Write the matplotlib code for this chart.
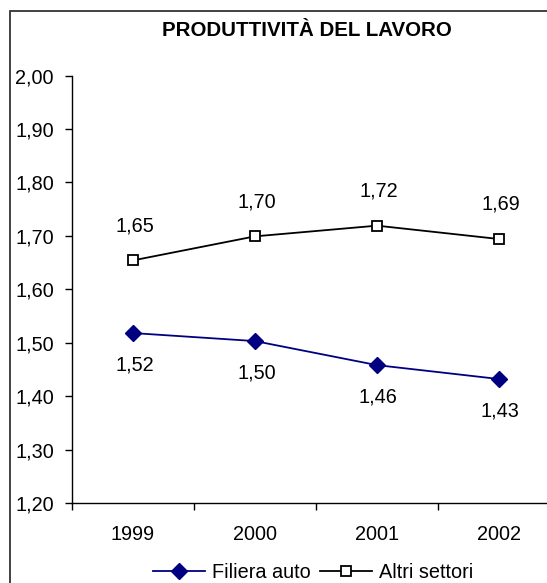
import matplotlib.pyplot as plt
from matplotlib.patches import Rectangle
from matplotlib.ticker import FuncFormatter, FixedLocator

plt.rcParams['font.family'] = ['Liberation Sans', 'DejaVu Sans']

# dati
anni = ['1999', '2000', '2001', '2002']
filiera_auto = [1.518, 1.503, 1.458, 1.432]
altri_settori = [1.654, 1.699, 1.719, 1.694]

FS = 14.3

def virgola(v, pos=None):
    return f"{v:.2f}".replace('.', ',')

fig = plt.figure(figsize=(5.47, 5.83), dpi=100)
fig.patch.set_facecolor('white')

# cornice (tagliata a destra e in basso come nell'originale)
fig.patches.append(Rectangle((10 / 547, -0.1), 1.2, (583 - 11) / 583 + 0.1,
                             transform=fig.transFigure, fill=False,
                             edgecolor='#333333', linewidth=1.3))

ax = fig.add_axes([72 / 547, 80 / 583, 488 / 547, 427.5 / 583])
x = list(range(1, len(anni) + 1))

l1, = ax.plot(x, filiera_auto, color='#000080', linewidth=1.3, marker='D',
              markersize=8, markerfacecolor='#000080', markeredgecolor='#000080',
              label='Filiera auto', clip_on=False)
l2, = ax.plot(x, altri_settori, color='black', linewidth=1.3, marker='s',
              markersize=7.5, markerfacecolor='white', markeredgecolor='black',
              markeredgewidth=1.3, label='Altri settori', clip_on=False)

for xi, v in zip(x, altri_settori):
    ax.annotate(virgola(v), (xi, v), xytext=(1, 25), textcoords='offset points',
                ha='center', va='center', fontsize=FS)
for xi, v in zip(x, filiera_auto):
    ax.annotate(virgola(v), (xi, v), xytext=(1, -23), textcoords='offset points',
                ha='center', va='center', fontsize=FS)

ax.set_xlim(0.5, 4.5)
ax.set_ylim(1.2, 2.0)
ax.yaxis.set_major_locator(FixedLocator([1.2 + 0.1 * i for i in range(9)]))
ax.yaxis.set_major_formatter(FuncFormatter(virgola))
ax.xaxis.set_major_locator(FixedLocator([0.5, 1.5, 2.5, 3.5, 4.5]))
ax.xaxis.set_major_formatter(FuncFormatter(lambda v, p: ''))
ax.xaxis.set_minor_locator(FixedLocator(x))
ax.set_xticklabels(anni, minor=True)
ax.tick_params(axis='x', which='minor', length=0, pad=16, labelsize=FS)
ax.tick_params(axis='x', which='major', direction='out', length=5, width=1)
ax.tick_params(axis='y', direction='out', length=5, width=1, pad=8, labelsize=FS)

for s in ['top', 'right']:
    ax.spines[s].set_visible(False)
for s in ['left', 'bottom']:
    ax.spines[s].set_linewidth(1)

fig.text(307 / 547, 1 - 31 / 583, 'PRODUTTIVITÀ DEL LAVORO', ha='center', va='center',
         fontsize=14.8, fontweight='bold')

fig.legend(handles=[l1, l2], loc='center', bbox_to_anchor=(313 / 547, 11 / 583),
           ncol=2, frameon=False, fontsize=FS, handlelength=2.6,
           handletextpad=0.35, columnspacing=0.5, borderpad=0)

fig.savefig('out.png', dpi=100)
